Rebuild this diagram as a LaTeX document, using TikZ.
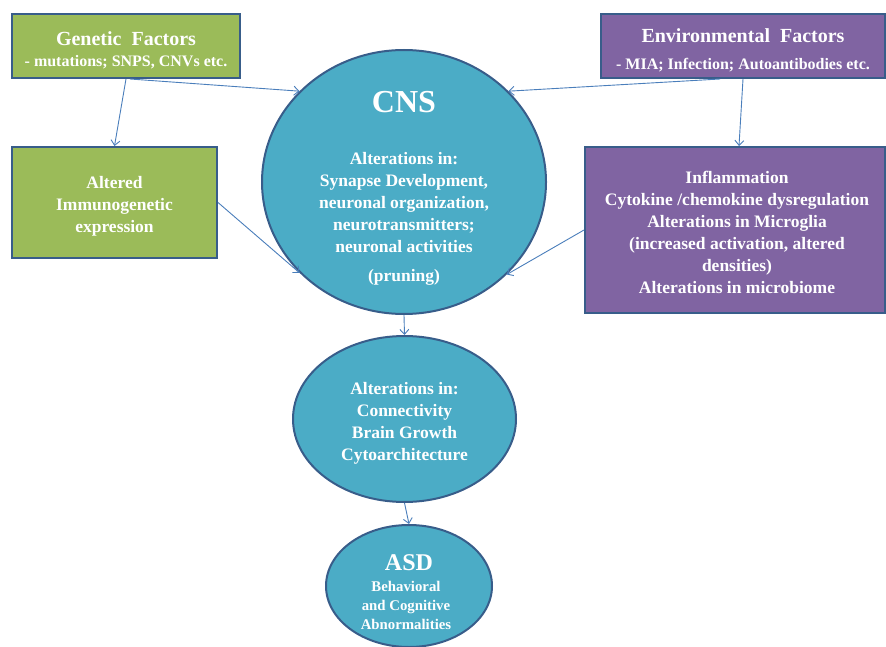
\documentclass[tikz,border=0pt]{standalone}
\usepackage{fontspec}
\setmainfont{Liberation Serif}
\usetikzlibrary{shapes.geometric,arrows.meta}
\definecolor{genegreen}{HTML}{9BBB59}
\definecolor{envpurple}{HTML}{8064A2}
\definecolor{cnsblue}{HTML}{4BACC6}
\definecolor{boxedge}{HTML}{385D8A}
\definecolor{linkblue}{HTML}{4A7EBB}
\newcommand{\bodysize}{\fontsize{17.5}{22}\selectfont}
\tikzset{
  factor/.style={
    rectangle,
    draw=boxedge,
    line width=2pt,
    text=white,
    font=\bfseries\bodysize,
    align=center,
    inner sep=0pt,
  },
  region/.style={
    ellipse,
    draw=boxedge,
    fill=cnsblue,
    line width=2pt,
    text=white,
    font=\bfseries\bodysize,
    align=center,
    inner sep=0pt,
  },
  label text/.style={
    text=white,
    align=center,
  },
  link/.style={
    draw=linkblue,
    line width=0.9pt,
    -{Straight Barb[length=5pt,width=9pt]},
  }
}

\begin{document}
\begin{tikzpicture}[x=1pt,y=-1pt]
  \useasboundingbox (0,0) rectangle (886,647);

  \node (gen) [factor,fill=genegreen,minimum width=228pt,minimum height=64pt]
    at (126,46) {};
  \node (gentext) [label text,font=\bfseries\fontsize{16}{22}\selectfont] at (126,50.5)
    {{\fontsize{20}{24}\selectfont Genetic\ \ Factors}\\[-1pt]
    - mutations; SNPS, CNVs etc.};
  \node (env) [factor,fill=envpurple,minimum width=284pt,minimum height=64pt]
    at (743,46) {};
  \node (envtext) [label text,font=\bfseries\fontsize{16}{22}\selectfont] at (743,50)
    {{\fontsize{20}{24}\selectfont Environmental\ \ Factors}\\[5pt]
    - MIA; Infection; Autoantibodies etc.};
  \node (alt) [factor,fill=genegreen,minimum width=205pt,minimum height=111pt]
    at (114.5,202.5) {};
  \node (alttext) [label text,font=\bfseries\bodysize] at (114.5,206.5)
    {Altered\\Immunogenetic\\expression};
  \node (infl) [factor,fill=envpurple,minimum width=300pt,minimum height=166pt]
    at (735,230) {};
  \node (infltext) [label text,font=\bfseries\bodysize] at (737,232)
    {Inflammation\\Cytokine /chemokine dysregulation\\
    Alterations in Microglia\\(increased activation, altered\\densities)\\
    Alterations in microbiome};

  \node (cns) [region,minimum width=284pt,minimum height=264pt] at (404,182) {};
  \node (cnstitle) [label text,font=\bfseries\fontsize{32}{36}\selectfont]
    at (404,102) {CNS};
  \node (cnstext) [label text,font=\bfseries\bodysize] at (404,218.5)
    {Alterations in:\\Synapse Development,\\neuronal organization,\\
    neurotransmitters;\\neuronal activities\\[7pt](pruning)};

  \node (mid) [region,minimum width=223pt,minimum height=166pt] at (404.5,419) {};
  \node (midtext) [label text,font=\bfseries\bodysize] at (404.5,423)
    {Alterations in:\\Connectivity\\Brain Growth\\Cytoarchitecture};

  \node (asd) [region,minimum width=166pt,minimum height=122pt] at (409,586) {};
  \node (asdtitle) [label text,font=\bfseries\fontsize{24}{28}\selectfont]
    at (409,563) {ASD};
  \node (asdtext) [label text,font=\bfseries\fontsize{14.8}{19}\selectfont]
    at (406,605) {Behavioral\\and Cognitive\\Abnormalities};

  \draw [link] (gen.south) -- (alt.north);
  \draw [link] ([xshift=4pt]gen.south) -- (cns.139);
  \draw [link] (env.south) -- ([xshift=4pt]infl.north);
  \draw [link] ([xshift=-23pt]env.south) -- (cns.41);
  \draw [link] (alt.east) -- (cns.221);
  \draw [link] (infl.west) -- (cns.-42);
  \draw [link] (cns.south) -- (mid.north);
  \draw [link] (mid.south) -- (asd.north);
\end{tikzpicture}
\end{document}
